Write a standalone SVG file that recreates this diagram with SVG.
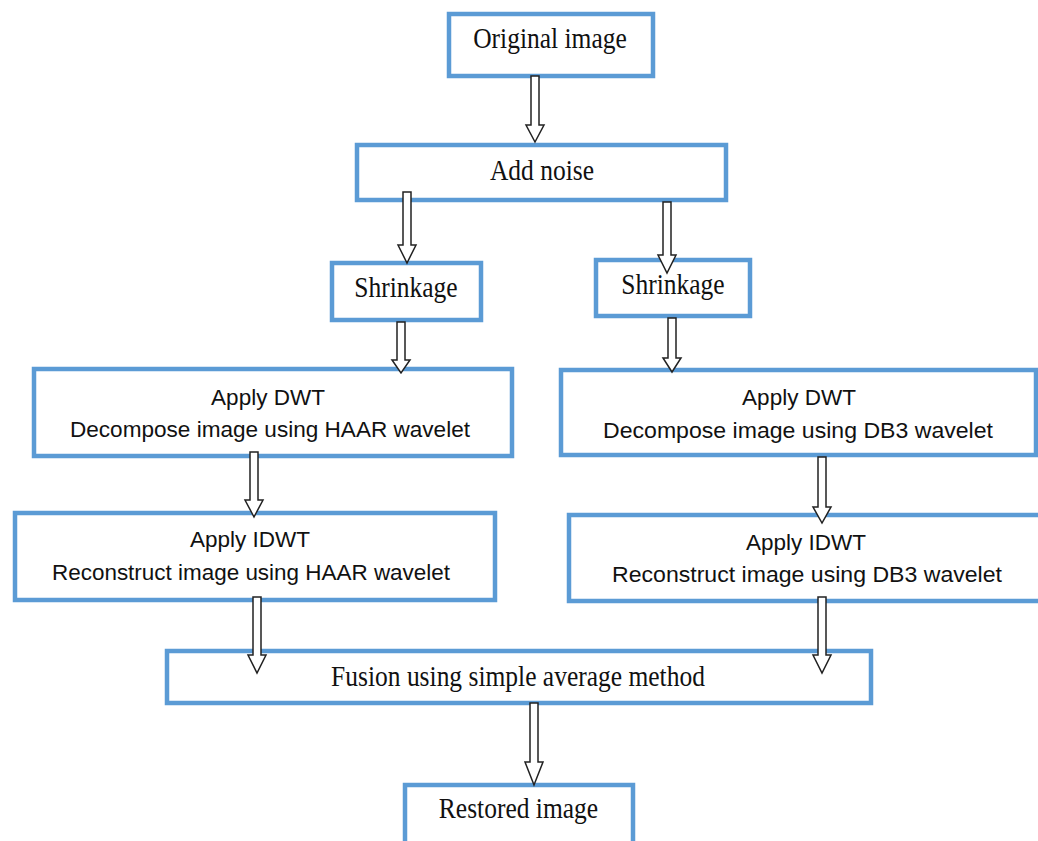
<svg xmlns="http://www.w3.org/2000/svg" width="1038" height="841" viewBox="0 0 1038 841">
<style>
.box{fill:#fff;stroke:#5B9BD5;stroke-width:4.5}
.serif{font-family:"Liberation Serif","Times New Roman",serif;font-size:25.5px;fill:#111;text-anchor:middle}
.sans{font-family:"Liberation Sans",Arial,sans-serif;font-size:22.5px;fill:#111;text-anchor:middle}
.arr{fill:#fff;stroke:#222;stroke-width:1.5;stroke-linejoin:miter}
</style>
<rect width="1038" height="841" fill="#fff"/>
<g id="original">
<rect class="box" x="449" y="14" width="204" height="62"/>
<text class="serif" transform="translate(550,48) scale(1,1.12)">Original image</text>
</g>
<g id="noise">
<rect class="box" x="357" y="145" width="369" height="55"/>
<text class="serif" transform="translate(542,180) scale(1,1.12)">Add noise</text>
</g>
<g id="shrink-left">
<rect class="box" x="332" y="263" width="149" height="57"/>
<text class="serif" transform="translate(406,297) scale(1,1.12)">Shrinkage</text>
</g>
<g id="shrink-right">
<rect class="box" x="596" y="260" width="154" height="56"/>
<text class="serif" transform="translate(673,294) scale(1,1.12)">Shrinkage</text>
</g>
<g id="dwt-haar">
<rect class="box" x="34" y="369" width="478" height="87"/>
<text class="sans" x="268" y="405">Apply DWT</text>
<text class="sans" x="270" y="437" textLength="400" lengthAdjust="spacingAndGlyphs">Decompose image using HAAR wavelet</text>
</g>
<g id="idwt-haar">
<rect class="box" x="15" y="513" width="480" height="87"/>
<text class="sans" x="250" y="547">Apply IDWT</text>
<text class="sans" x="251" y="580" textLength="398" lengthAdjust="spacingAndGlyphs">Reconstruct image using HAAR wavelet</text>
</g>
<g id="dwt-db3">
<rect class="box" x="561" y="370" width="475" height="85"/>
<text class="sans" x="799" y="405">Apply DWT</text>
<text class="sans" x="798" y="438" textLength="390" lengthAdjust="spacingAndGlyphs">Decompose image using DB3 wavelet</text>
</g>
<g id="idwt-db3">
<rect class="box" x="569" y="515" width="478" height="86"/>
<text class="sans" x="806" y="550">Apply IDWT</text>
<text class="sans" x="807" y="582" textLength="390" lengthAdjust="spacingAndGlyphs">Reconstruct image using DB3 wavelet</text>
</g>
<g id="fusion">
<rect class="box" x="167" y="651" width="704" height="52"/>
<text class="serif" transform="translate(518,686) scale(1,1.12)">Fusion using simple average method</text>
</g>
<g id="restored">
<rect class="box" x="405" y="785" width="228" height="70"/>
<text class="serif" transform="translate(518.5,818) scale(1,1.12)">Restored image</text>
</g>
<g id="connectors">
<path class="arr" d="M531,76 L539,76 L539,125 L544,125 L535,142 L526,125 L531,125 Z"/>
<path class="arr" d="M403,192 L411,192 L411,245 L416,245 L407,263 L398,245 L403,245 Z"/>
<path class="arr" d="M663,202 L671,202 L671,255 L676,255 L667,273 L658,255 L663,255 Z"/>
<path class="arr" d="M397,322 L405,322 L405,360 L410,360 L401,373 L392,360 L397,360 Z"/>
<path class="arr" d="M668,318 L676,318 L676,358 L681,358 L672,372 L663,358 L668,358 Z"/>
<path class="arr" d="M250,452 L258,452 L258,500 L263,500 L254,517 L245,500 L250,500 Z"/>
<path class="arr" d="M818,457 L826,457 L826,507 L831,507 L822,523 L813,507 L818,507 Z"/>
<path class="arr" d="M253,597 L261,597 L261,655 L266,655 L257,673 L248,655 L253,655 Z"/>
<path class="arr" d="M818,597 L826,597 L826,655 L831,655 L822,673 L813,655 L818,655 Z"/>
<path class="arr" d="M530,703 L538,703 L538,762 L543,762 L534,785 L525,762 L530,762 Z"/>
</g>
</svg>
